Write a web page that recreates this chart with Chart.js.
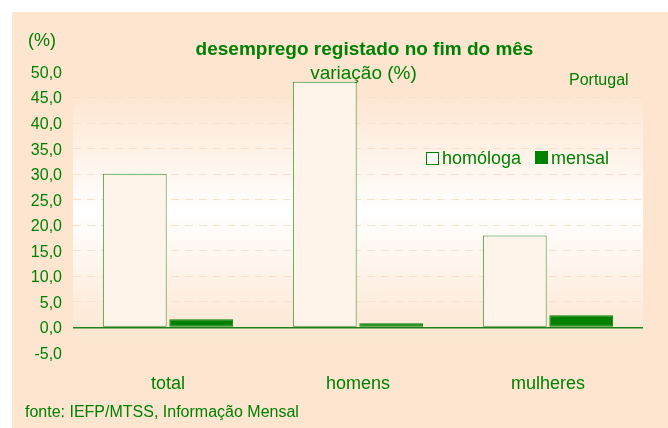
<!DOCTYPE html>
<html lang="pt">
<head>
<meta charset="utf-8">
<title>desemprego registado no fim do mês</title>
<script src="https://cdn.jsdelivr.net/npm/chart.js@4.4.1/dist/chart.umd.min.js"></script>
<style>
    html, body { margin: 0; padding: 0; background: #ffffff; }
    #wrap { position: relative; width: 668px; height: 428px; overflow: hidden; font-family: "Liberation Sans", Arial, sans-serif; color: #008000; }
    #chart { position: absolute; left: 0; top: 0; }
    .txt { position: absolute; white-space: nowrap; }
    .box { position: absolute; width: 11px; height: 11px; border: 1px solid #008000; }
</style>
</head>
<body>
<div id="wrap">
    <canvas id="chart" width="668" height="428"></canvas>
    <div class="txt" style="left:28px; top:31px; font-size:18px; line-height:18px;">(%)</div>
    <div class="txt" style="left:0; width:729px; text-align:center; top:39px; font-size:19px; line-height:19px; font-weight:bold;">desemprego registado no fim do mês</div>
    <div class="txt" style="left:0; width:727px; text-align:center; top:63px; font-size:19px; line-height:19px;">variação (%)</div>
    <div class="txt" style="left:569px; top:72px; font-size:16px; line-height:16px;">Portugal</div>
    <div class="box" style="left:426px; top:152px; background:#ffffff;"></div>
    <div class="txt" style="left:442px; top:149px; font-size:18px; line-height:18px;">homóloga</div>
    <div class="box" style="left:535px; top:151px; background:#008000;"></div>
    <div class="txt" style="left:551px; top:149px; font-size:18px; line-height:18px;">mensal</div>
    <div class="txt" style="left:25px; top:404px; font-size:16px; line-height:16px;">fonte: IEFP/MTSS, Informação Mensal</div>
</div>

<script>
// Chart data
const categories = ['total', 'homens', 'mulheres'];
const homologa = [30.1, 48.1, 18.0];
const mensal = [1.6, 0.8, 2.4];

const yMin = -5;
const yMax = 50;
const yStep = 5;

const PEACH = '#fde5cf';
const GREEN = '#008000';

// Panel and plot-area background
const backgroundPlugin = {
    id: 'panelBackground',
    beforeDraw(chart) {
        const ctx = chart.ctx;
        const area = chart.chartArea;
        ctx.save();
        ctx.fillStyle = '#ffffff';
        ctx.fillRect(0, 0, chart.width, chart.height);
        ctx.fillStyle = PEACH;
        ctx.fillRect(12, 12, chart.width - 12, chart.height - 12);

        const top = area.top + 20;
        const bottom = area.bottom - 10;
        const grad = ctx.createLinearGradient(0, top, 0, bottom);
        grad.addColorStop(0, PEACH);
        grad.addColorStop(0.48, '#ffffff');
        grad.addColorStop(1, PEACH);
        ctx.fillStyle = grad;
        ctx.fillRect(area.left, top, area.right - area.left, bottom - top);
        ctx.restore();
    }
};

function formatTick(value) {
    return value.toFixed(1).replace('.', ',');
}

new Chart(document.getElementById('chart'), {
    type: 'bar',
    data: {
        labels: categories,
        datasets: [
            {
                label: 'homóloga',
                data: homologa,
                backgroundColor: '#fff4ea',
                borderColor: '#2f8f2f',
                borderWidth: 1,
                borderSkipped: false
            },
            {
                label: 'mensal',
                data: mensal,
                backgroundColor: GREEN,
                borderColor: GREEN,
                borderWidth: 1,
                borderSkipped: false
            }
        ]
    },
    options: {
        responsive: false,
        animation: false,
        devicePixelRatio: 1,
        layout: {
            padding: { left: 0, right: 25, top: 72, bottom: 0 }
        },
        datasets: {
            bar: {
                categoryPercentage: 0.7,
                barPercentage: 0.96
            }
        },
        plugins: {
            legend: { display: false },
            title: { display: false },
            tooltip: { enabled: false }
        },
        scales: {
            x: {
                grid: { display: false, drawTicks: false },
                border: { display: false },
                ticks: {
                    color: GREEN,
                    padding: 20,
                    font: { family: '"Liberation Sans", Arial, sans-serif', size: 18 }
                },
                afterFit(scale) { scale.height = 75; }
            },
            y: {
                min: yMin,
                max: yMax,
                ticks: {
                    stepSize: yStep,
                    color: GREEN,
                    padding: 11,
                    labelOffset: 1.5,
                    font: { family: '"Liberation Sans", Arial, sans-serif', size: 16 },
                    callback: value => formatTick(value)
                },
                grid: {
                    drawTicks: false,
                    color: ctx => {
                        const v = ctx.tick ? ctx.tick.value : null;
                        if (v === 0) return '#1f801f';
                        if (v > yMin && v < yMax) return '#fcdfc8';
                        return 'rgba(0,0,0,0)';
                    },
                    lineWidth: ctx => (ctx.tick && ctx.tick.value === 0 ? 1.5 : 1)
                },
                border: {
                    display: false,
                    dash: ctx => (ctx.tick && ctx.tick.value === 0 ? [] : [8, 6])
                },
                afterFit(scale) { scale.width = 73; }
            }
        }
    },
    plugins: [backgroundPlugin]
});
</script>
</body>
</html>
